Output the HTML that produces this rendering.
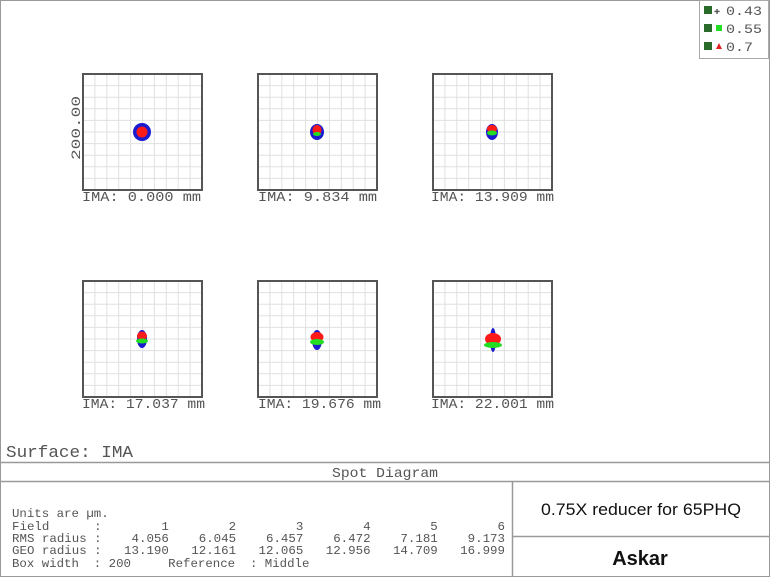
<!DOCTYPE html>
<html><head><meta charset="utf-8"><style>
body{margin:0;background:#fff}
svg{display:block}
text{font-family:"Liberation Mono",monospace;fill:#555}
</style></head><body>
<svg width="770" height="577" viewBox="0 0 770 577" xmlns="http://www.w3.org/2000/svg">
<defs>
<g id="box">
<rect x="0" y="0" width="119" height="116" fill="#fff"/>
<g stroke="#e0e0e0" stroke-width="1">
<path d="M11.9 0V116M23.8 0V116M35.7 0V116M47.6 0V116M59.5 0V116M71.4 0V116M83.3 0V116M95.2 0V116M107.1 0V116"/>
<path d="M0 11.6H119M0 23.2H119M0 34.8H119M0 46.4H119M0 58H119M0 69.6H119M0 81.2H119M0 92.8H119M0 104.4H119"/>
</g>
<rect x="0" y="0" width="119" height="116" fill="none" stroke="#555" stroke-width="2"/>
</g>
</defs>
<rect x="0.5" y="0.5" width="769" height="576" fill="#fff" stroke="#999"/>
<use href="#box" x="83" y="74"/>
<use href="#box" x="258" y="74"/>
<use href="#box" x="433" y="74"/>
<use href="#box" x="83" y="281"/>
<use href="#box" x="258" y="281"/>
<use href="#box" x="433" y="281"/>
<text x="80" y="128" font-size="13" transform="rotate(-90 80 128)" text-anchor="middle" textLength="64" lengthAdjust="spacingAndGlyphs">200.00</text>
<g font-size="14">
<text x="82" y="201" textLength="119" lengthAdjust="spacingAndGlyphs">IMA: 0.000 mm</text>
<text x="258" y="201" textLength="119" lengthAdjust="spacingAndGlyphs">IMA: 9.834 mm</text>
<text x="431" y="201" textLength="123" lengthAdjust="spacingAndGlyphs">IMA: 13.909 mm</text>
<text x="82" y="408" textLength="123" lengthAdjust="spacingAndGlyphs">IMA: 17.037 mm</text>
<text x="258" y="408" textLength="123" lengthAdjust="spacingAndGlyphs">IMA: 19.676 mm</text>
<text x="431" y="408" textLength="123" lengthAdjust="spacingAndGlyphs">IMA: 22.001 mm</text>
</g>
<circle cx="142" cy="132" r="9" fill="#1a1ad0"/><circle cx="142" cy="132" r="5.5" fill="#ff1a1a"/>
<ellipse cx="317" cy="132" rx="7" ry="8" fill="#1a1ad0"/><ellipse cx="317" cy="130" rx="4.5" ry="5" fill="#ff1a1a"/><ellipse cx="317" cy="134" rx="4" ry="2" fill="#22dd22"/>
<ellipse cx="492" cy="132" rx="6" ry="8" fill="#1a1ad0"/><ellipse cx="492" cy="129" rx="5" ry="4" fill="#ff1a1a"/><ellipse cx="492" cy="133" rx="5" ry="2.5" fill="#22dd22"/>
<ellipse cx="142" cy="339" rx="5" ry="9" fill="#1a1ad0"/><ellipse cx="142" cy="336" rx="5" ry="4.5" fill="#ff1a1a"/><ellipse cx="142" cy="341" rx="6" ry="2.5" fill="#22dd22"/>
<ellipse cx="317" cy="340" rx="5" ry="10" fill="#1a1ad0"/><ellipse cx="317" cy="337" rx="6.5" ry="5" fill="#ff1a1a"/><ellipse cx="317" cy="342" rx="7" ry="3" fill="#22dd22"/>
<ellipse cx="493" cy="340" rx="3" ry="12" fill="#1a1ad0"/><ellipse cx="493" cy="339" rx="8" ry="6" fill="#ff1a1a"/><ellipse cx="493" cy="345" rx="9" ry="3" fill="#22dd22"/>
<rect x="699.5" y="0.5" width="69" height="58" fill="#fff" stroke="#aaa"/>
<g font-size="13">
<rect x="704" y="6" width="8" height="8" fill="#2a6a2a"/><text x="714" y="14" fill="#1a1ad0" font-size="10">✚</text><text x="726" y="15" textLength="36" lengthAdjust="spacingAndGlyphs">0.43</text>
<rect x="704" y="24" width="8" height="8" fill="#2a6a2a"/><rect x="716" y="25" width="6" height="6" fill="#22dd22"/><text x="726" y="33" textLength="36" lengthAdjust="spacingAndGlyphs">0.55</text>
<rect x="704" y="42" width="8" height="8" fill="#2a6a2a"/><path d="M716 49L719 43L722 49Z" fill="#e02020"/><text x="726" y="51" textLength="27" lengthAdjust="spacingAndGlyphs">0.7</text>
</g>
<text x="6" y="457" font-size="17" textLength="127" lengthAdjust="spacingAndGlyphs">Surface: IMA</text>
<path d="M0 462.5H770M0 481.5H770M512.5 481.5V577M512.5 536.5H770" stroke="#999" stroke-width="1.5"/>
<text x="332" y="477" font-size="14" textLength="106" lengthAdjust="spacingAndGlyphs">Spot Diagram</text>
<g font-size="12.4" fill="#444">
<text x="12" y="517">Units are µm.</text>
<text x="12" y="530" xml:space="preserve" textLength="493" lengthAdjust="spacingAndGlyphs">Field      :        1        2        3        4        5        6</text>
<text x="12" y="542" xml:space="preserve" textLength="493" lengthAdjust="spacingAndGlyphs">RMS radius :    4.056    6.045    6.457    6.472    7.181    9.173</text>
<text x="12" y="554" xml:space="preserve" textLength="493" lengthAdjust="spacingAndGlyphs">GEO radius :   13.190   12.161   12.065   12.956   14.709   16.999</text>
<text x="12" y="567" xml:space="preserve">Box width  : 200     Reference  : Middle</text>
</g>
<text x="641" y="515" font-size="17" text-anchor="middle" textLength="200" lengthAdjust="spacingAndGlyphs" style="font-family:'Liberation Sans',sans-serif;fill:#111">0.75X reducer for 65PHQ</text>
<text x="640" y="565" font-size="20" font-weight="bold" text-anchor="middle" style="font-family:'Liberation Sans',sans-serif;fill:#111">Askar</text>
</svg>
</body></html>
